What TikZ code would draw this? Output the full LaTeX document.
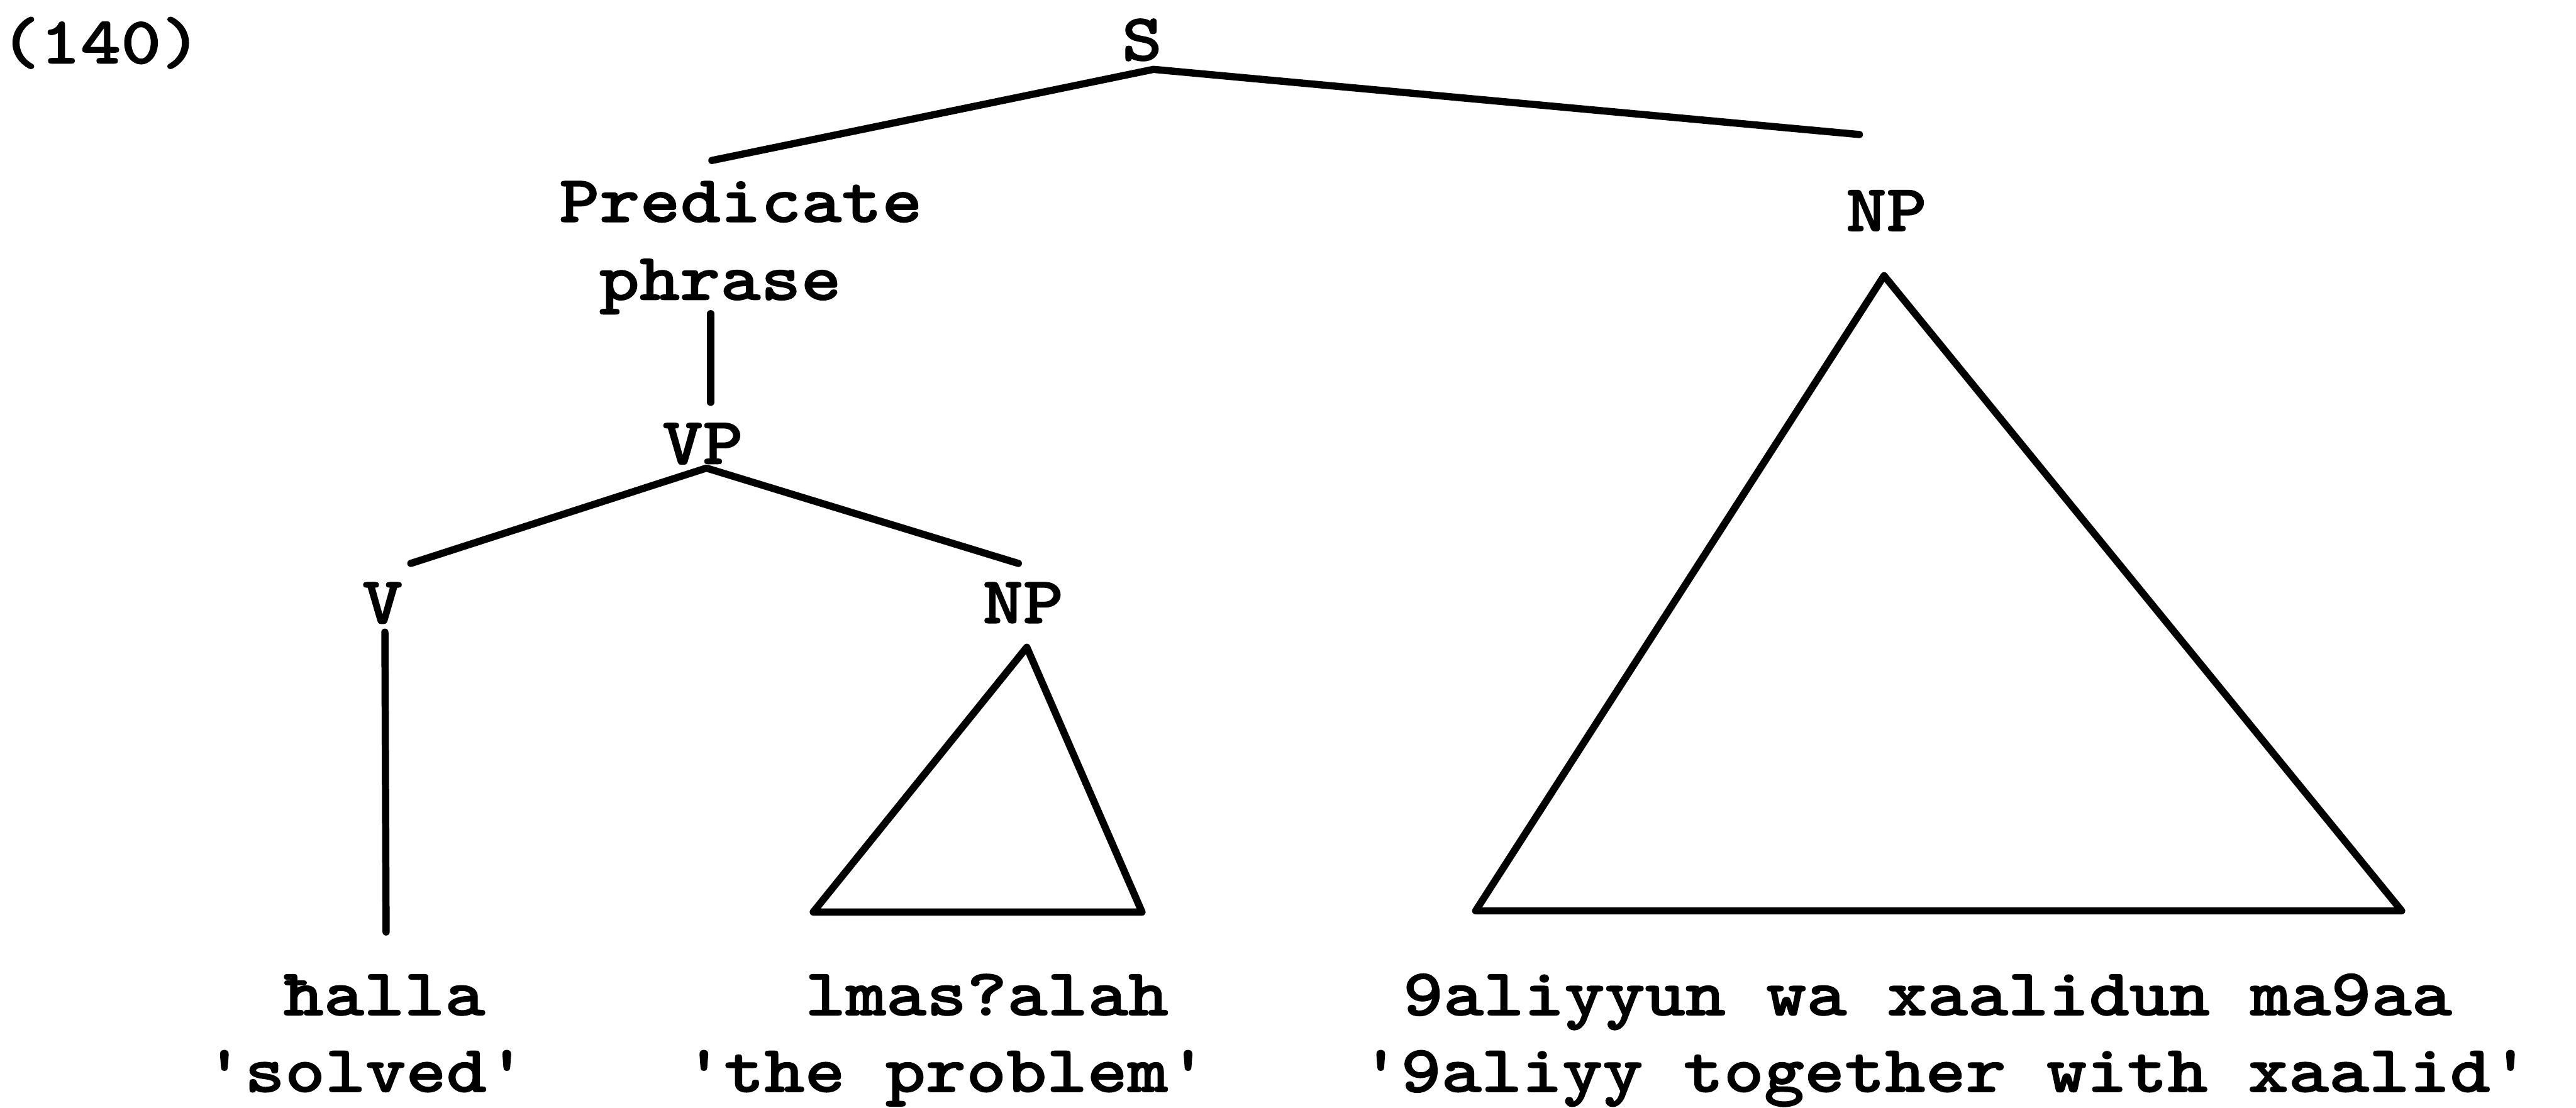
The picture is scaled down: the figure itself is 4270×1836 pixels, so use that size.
\documentclass[tikz,border=0pt]{standalone}
\usepackage{fontspec}
\newfontfamily\tw{lmmonolt10-bold.otf}[FakeStretch=1.15,FakeBold=1.2]
\begin{document}
\begin{tikzpicture}[x=0.01cm,y=-0.01cm,
  lbl/.style={inner sep=0pt,anchor=base,font=\tw\fontsize{31.5}{38}\selectfont},
  edge/.style={line width=3.4pt,line cap=round,line join=round}]
\useasboundingbox (0,0) rectangle (4270,1836);
% labels
\node[lbl] (ex) at (167,105) {(140)};
\node[lbl] (S) at (1893,100) {S};
\node[lbl] (Pred) at (1228,368) {Predicate};
\node[lbl] (phr) at (1194,497) {phrase};
\node[lbl] (VP) at (1165,769) {VP};
\node[lbl] (V) at (634,1033) {V};
\node[lbl] (NPa) at (1696,1033) {NP};
\node[lbl] (NPb) at (3127,383) {NP};
\node[lbl] (w1) at (637,1683) {ħalla};
\node[lbl] (g1) at (606,1810) {'solved'};
\node[lbl] (w2) at (1636,1683) {lmas?alah};
\node[lbl] (g2) at (1568,1810) {'the problem'};
\node[lbl] (w3) at (3195,1683) {9aliyyun wa xaalidun ma9aa};
\node[lbl] (g3) at (3225,1810) {'9aliyy together with xaalid'};
% junction coordinates
\coordinate (Sj) at (1912,115);
\coordinate (PredT) at (1180,266);
\coordinate (NPbT) at (3082,223);
\coordinate (phrB) at (1178,520);
\coordinate (VPt) at (1178,667);
\coordinate (VPj) at (1171,776);
\coordinate (Vt) at (681,934);
\coordinate (NPaT) at (1688,934);
\coordinate (Vb) at (638,1048);
\coordinate (Vend) at (640,1545);
\coordinate (ta) at (1702,1073);
\coordinate (tal) at (1348,1512);
\coordinate (tar) at (1893,1512);
\coordinate (tb) at (3123,457);
\coordinate (tbl) at (2446,1510);
\coordinate (tbr) at (3981,1510);
% edges
\draw[edge] (PredT) -- (Sj) -- (NPbT);
\draw[edge] (phrB) -- (VPt);
\draw[edge] (Vt) -- (VPj) -- (NPaT);
\draw[edge] (Vb) -- (Vend);
\draw[edge] (ta) -- (tal) -- (tar) -- cycle;
\draw[edge] (tb) -- (tbl) -- (tbr) -- cycle;
\end{tikzpicture}
\end{document}
